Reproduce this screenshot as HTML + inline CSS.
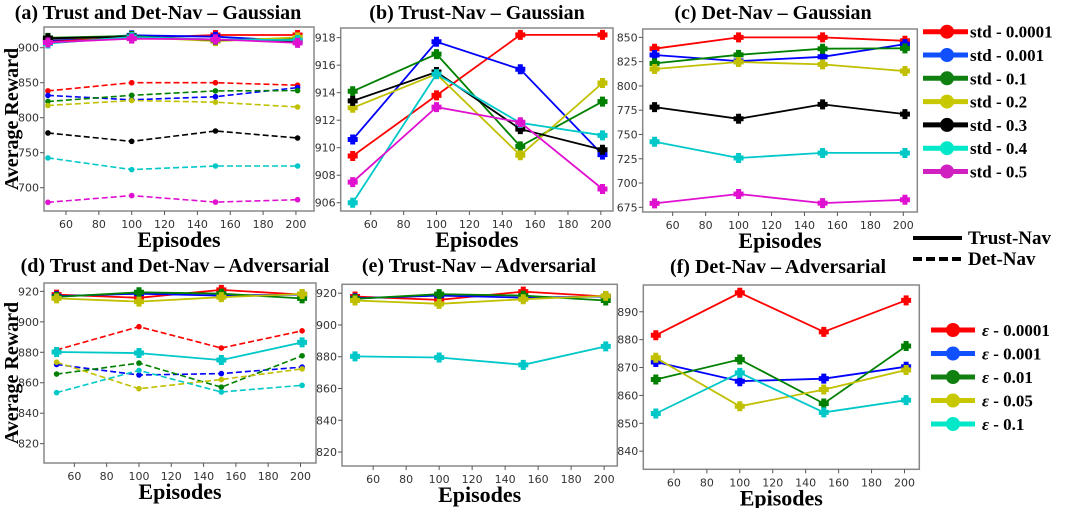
<!DOCTYPE html>
<html><head><meta charset="utf-8">
<style>
html,body{margin:0;padding:0;background:#fff;}
svg{display:block;}
.tick{font-family:"DejaVu Sans","Liberation Sans",sans-serif;font-size:11px;fill:#333;}
.ttl{font-family:"Liberation Serif",serif;font-weight:bold;font-size:20px;fill:#000;}
.ax{font-family:"Liberation Serif",serif;font-weight:bold;font-size:22px;fill:#000;}
.yax{font-family:"Liberation Serif",serif;font-weight:bold;font-size:20px;fill:#000;}
.lg{font-family:"Liberation Serif",serif;font-weight:bold;font-size:17px;fill:#000;}
</style></head>
<body>
<svg id="fig" width="1065" height="508" viewBox="0 0 1065 508" xmlns="http://www.w3.org/2000/svg"></svg>
<script>
const episodes = [49, 100, 151, 201];
const stdLabels = ["std - 0.0001","std - 0.001","std - 0.1","std - 0.2","std - 0.3","std - 0.4","std - 0.5"];
const stdColors = ["#ff0000","#0000ff","#008000","#c0c000","#000000","#00c8c8","#e010d0"];
const stdLegendColors = ["#ff0000","#1050ff","#108010","#c8c800","#000000","#00e8c8","#d020c0"];
const trustGauss = [
  [909.4, 913.8, 918.2, 918.2],
  [910.6, 917.7, 915.7, 909.5],
  [914.1, 916.8, 910.1, 913.35],
  [912.9, 915.35, 909.45, 914.7],
  [913.4, 915.5, 911.35, 909.85],
  [906.0, 915.35, 911.8, 910.9],
  [907.5, 912.95, 911.85, 907.0]
];
const detGauss = [
  [838.3, 850.0, 850.0, 846.5],
  [831.8, 825.6, 830.0, 843.0],
  [823.2, 832.0, 838.3, 838.7],
  [817.4, 824.6, 822.2, 815.3],
  [778.2, 766.2, 781.0, 771.0],
  [742.5, 725.8, 731.0, 731.0],
  [679.1, 688.7, 679.4, 682.8]
];
const epsLabels = ["\u03B5 - 0.0001","\u03B5 - 0.001","\u03B5 - 0.01","\u03B5 - 0.05","\u03B5 - 0.1"];
const epsColors = ["#ff0000","#0000ff","#008000","#c0c000","#00c8c8"];
const epsLegendColors = ["#ff0000","#1050ff","#108010","#c8c800","#00e8c8"];
const trustAdv = [
  [917.9, 915.8, 921.0, 917.9],
  [916.8, 918.5, 917.2, 917.9],
  [916.4, 919.4, 918.5, 915.4],
  [915.4, 913.3, 916.2, 918.3],
  [880.2, 879.5, 874.9, 886.5]
];
const detAdv = [
  [881.6, 896.8, 882.8, 894.1],
  [872.0, 865.1, 866.0, 870.3],
  [865.7, 872.9, 857.1, 877.7],
  [873.5, 856.1, 862.1, 869.1],
  [853.5, 868.1, 853.9, 858.3]
];
const xTicks = [60, 80, 100, 120, 140, 160, 180, 200];
const yTicksA = [700, 750, 800, 850, 900];
const yTicksB = [906, 908, 910, 912, 914, 916, 918];
const yTicksC = [675, 700, 725, 750, 775, 800, 825, 850];
const yTicksD = [820, 840, 860, 880, 900, 920];
const yTicksE = [820, 840, 860, 880, 900, 920];
const yTicksF = [840, 850, 860, 870, 880, 890];

const NS = "http://www.w3.org/2000/svg";
const fig = document.getElementById('fig');
function mk(tag, attrs, parent){
  const e = document.createElementNS(NS, tag);
  for (const k in attrs) e.setAttribute(k, attrs[k]);
  (parent || fig).appendChild(e);
  return e;
}

function panel(cfg){
  const g = mk('g', {});
  
  
  const sx = v => cfg.x0 + (v - cfg.xmin) / (cfg.xmax - cfg.xmin) * (cfg.x1 - cfg.x0);
  const sy = v => cfg.y1 - (v - cfg.ymin) / (cfg.ymax - cfg.ymin) * (cfg.y1 - cfg.y0);
  const frame = mk('rect', {x:cfg.x0, y:cfg.y0, width:cfg.x1-cfg.x0, height:cfg.y1-cfg.y0, fill:'#fff', stroke:'#888', 'stroke-width':1.5}, g);
  
  
  xTicks.forEach(t => {
    const x = sx(t);
    mk('line', {x1:x, x2:x, y1:cfg.y1, y2:cfg.y1+4, stroke:'#555', 'stroke-width':1}, g);
    const tx = mk('text', {x:x, y:cfg.y1+17, 'text-anchor':'middle', class:'tick'}, g);
    tx.textContent = t;
    
    
  });
  cfg.yTicks.forEach(t => {
    const y = sy(t);
    mk('line', {x1:cfg.x0-4, x2:cfg.x0, y1:y, y2:y, stroke:'#555', 'stroke-width':1}, g);
    const ty = mk('text', {x:cfg.x0-5, y:y+4, 'text-anchor':'end', class:'tick'}, g);
    ty.textContent = t;
    
    
  });
  cfg.series.forEach(s => {
    s.data.forEach((vals, i) => {
      const pts = vals.map((v, j) => sx(episodes[j]).toFixed(1) + ',' + sy(v).toFixed(1)).join(' ');
      const pl = mk('polyline', {points:pts, fill:'none', stroke:s.colors[i], 'stroke-width':s.dashed?1.6:1.8, 'stroke-dasharray':s.dashed?'6,3':'none'}, g);
      
      
      vals.forEach((v, j) => {
        const cx = sx(episodes[j]), cy = sy(v);
        let m;
        if (s.dashed) {
          m = mk('circle', {cx:cx, cy:cy, r:2.8, fill:s.colors[i]}, g);
        } else {
          m = mk('path', {d:`M${cx-2.5},${cy-5}h5v2.5h2.5v5h-2.5v2.5h-5v-2.5h-2.5v-5h2.5z`, fill:s.colors[i]}, g);
        }
        
        
      });
    });
  });
  const tt = mk('text', {x:cfg.tx, y:cfg.ty, 'text-anchor':'middle', class:'ttl'});
  tt.textContent = cfg.title;
  
  
  const xl = mk('text', {x:(cfg.x0+cfg.x1)/2, y:cfg.y1+36, 'text-anchor':'middle', class:'ax'});
  xl.textContent = 'Episodes';
  
  
}

panel({name:'panel-a', title:'(a) Trust and Det-Nav \u2013 Gaussian', tx:158, ty:19,
  x0:44, x1:314, y0:27, y1:211, xmin:46.6, xmax:211, ymin:666.7, ymax:929.6, yTicks:yTicksA,
  series:[{data:detGauss, colors:stdColors, dashed:true},{data:trustGauss, colors:stdColors, dashed:false}]});
panel({name:'panel-b', title:'(b) Trust-Nav \u2013 Gaussian', tx:477, ty:19,
  x0:340.7, x1:613, y0:28, y1:211, xmin:41.7, xmax:207.4, ymin:905.4, ymax:918.7, yTicks:yTicksB,
  series:[{data:trustGauss, colors:stdColors, dashed:false}]});
panel({name:'panel-c', title:'(c) Det-Nav \u2013 Gaussian', tx:773, ty:19,
  x0:642.7, x1:917.3, y0:29, y1:212, xmin:41.8, xmax:208.5, ymin:670.2, ymax:858.6, yTicks:yTicksC,
  series:[{data:detGauss, colors:stdColors, dashed:false}]});
panel({name:'panel-d', title:'(d) Trust and Det-Nav \u2013 Adversarial', tx:175, ty:272,
  x0:44, x1:316, y0:283, y1:463, xmin:41.2, xmax:209.6, ymin:807.3, ymax:925.5, yTicks:yTicksD,
  series:[{data:detAdv, colors:epsColors, dashed:true},{data:trustAdv, colors:epsColors, dashed:false}]});
panel({name:'panel-e', title:'(e) Trust-Nav \u2013 Adversarial', tx:479, ty:272,
  x0:342, x1:617.3, y0:284.3, y1:466, xmin:41.1, xmax:208, ymin:811.2, ymax:925.6, yTicks:yTicksE,
  series:[{data:trustAdv, colors:epsColors, dashed:false}]});
panel({name:'panel-f', title:'(f) Det-Nav \u2013 Adversarial', tx:778, ty:273,
  x0:643.3, x1:919.3, y0:285, y1:469.3, xmin:41.4, xmax:209, ymin:833.5, ymax:899.6, yTicks:yTicksF,
  series:[{data:detAdv, colors:epsColors, dashed:false}]});

// y-axis titles
[[119, 'y-axis-title-top'], [373, 'y-axis-title-bottom']].forEach(([cy, nm]) => {
  const t = mk('text', {x:0, y:0, 'text-anchor':'middle', class:'yax', transform:`translate(18,${cy}) rotate(-90)`});
  t.textContent = 'Average Reward';
  
  
});

// std legend
stdLabels.forEach((lab, i) => {
  const y = 31.7 + i * 23.3;
  const g = mk('g', {});
  
  
  mk('line', {x1:923, x2:968, y1:y, y2:y, stroke:stdLegendColors[i], 'stroke-width':5}, g);
  mk('circle', {cx:947, cy:y, r:7, fill:stdLegendColors[i]}, g);
  const t = mk('text', {x:970, y:y+6, class:'lg'}, g);
  t.textContent = lab;
});

// eps legend
epsLabels.forEach((lab, i) => {
  const y = 330 + i * 23.5;
  const g = mk('g', {});
  
  
  mk('line', {x1:931, x2:975, y1:y, y2:y, stroke:epsLegendColors[i], 'stroke-width':5}, g);
  mk('circle', {cx:953, cy:y, r:7, fill:epsLegendColors[i]}, g);
  const t = mk('text', {x:982, y:y+6, class:'lg'}, g);
  t.innerHTML = '<tspan font-style="italic">\u03B5</tspan>' + lab.slice(1);
});

// line-style legend
[[238, 'Trust-Nav', 'none', 'legend-trust-nav'], [259, 'Det-Nav', '9,4', 'legend-det-nav']].forEach(([y, lab, dash, nm]) => {
  const g = mk('g', {});
  
  
  mk('line', {x1:913, x2:962, y1:y, y2:y, stroke:'#000', 'stroke-width':4, 'stroke-dasharray':dash}, g);
  const t = mk('text', {x:968, y:y+6, class:'lg'}, g);
  t.setAttribute('style', 'font-size:19px');
  t.textContent = lab;
});
</script>
</body></html>
